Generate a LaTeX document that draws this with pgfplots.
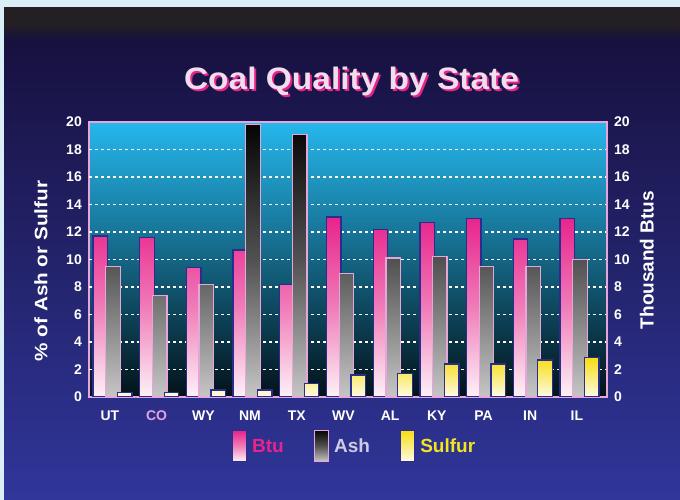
\documentclass[border=0pt]{standalone}
\usepackage{pgfplots}
\pgfplotsset{compat=1.18}
\usepackage{pgfplotstable}
\usepackage{fontspec}
\setmainfont{Liberation Sans}
\usepackage{graphicx}
\definecolor{bglight}{HTML}{DAEEF8}
\definecolor{paneltop}{HTML}{17113F}
\definecolor{panelbot}{HTML}{30369A}
\definecolor{bandtop}{HTML}{231F22}
\definecolor{plottop}{HTML}{25B7EC}
\definecolor{plotmid}{HTML}{0B6480}
\definecolor{plotbot}{HTML}{03121A}
\definecolor{btupink}{HTML}{E8238B}
\definecolor{btumid}{HTML}{F07CB8}
\definecolor{btulight}{HTML}{FDF2F7}
\definecolor{ashtop}{HTML}{050505}
\definecolor{ashmid}{HTML}{525252}
\definecolor{ashbot}{HTML}{C6C6C6}
\definecolor{sulftop}{HTML}{F6DE12}
\definecolor{sulfbot}{HTML}{FFFBE6}
\definecolor{edgeblue}{HTML}{2B2C8C}
\definecolor{edgepink}{HTML}{E6A6DA}
\definecolor{titlefg}{HTML}{F1DDEE}
\definecolor{ashtext}{HTML}{CCCCE4}
\definecolor{sulftext}{HTML}{F2E51E}
\definecolor{colabel}{HTML}{E2A2DE}

\pgfplotstableread{
x btu ash sulfur
0 11.7 9.5 0.35
1 11.6 7.4 0.35
2 9.4 8.2 0.5
3 10.7 19.8 0.5
4 8.2 19.1 1.0
5 13.1 9.0 1.6
6 12.2 10.1 1.7
7 12.7 10.2 2.4
8 13.0 9.5 2.4
9 11.5 9.5 2.7
10 13.0 10.0 2.85
}\coaldata

\begin{document}
\begin{tikzpicture}[x=1pt,y=1pt]
\path[use as bounding box] (0,0) rectangle (680,500);
\fill[bglight] (0,0) rectangle (680,500);
\shade[top color=paneltop, bottom color=panelbot] (4,0) rectangle (680,461);
\shade[top color=bandtop, bottom color=paneltop] (4,460) rectangle (680,476);
\fill[bandtop] (4,475) rectangle (680,493);
\node[text=btupink, font=\bfseries\fontsize{31}{31}\selectfont] at (353.5,416.5) {\scalebox{1.08}[1]{Coal Quality by State}};
\node[text=titlefg, font=\bfseries\fontsize{31}{31}\selectfont] at (351.5,419) {\scalebox{1.08}[1]{Coal Quality by State}};

\begin{axis}[
  at={(89pt,103pt)}, anchor=south west, scale only axis,
  width=518pt, height=275pt,
  xmin=-0.512, xmax=10.58, ymin=0, ymax=20,
  ytick={0,2,...,20}, xtick={0,...,10},
  xticklabels={UT,\textcolor{colabel}{CO},WY,NM,TX,WV,AL,KY,PA,IN,IL},
  major tick length=0pt,
  axis line style={draw=edgepink, line width=1.5pt},
  axis background/.style={top color=plottop, middle color=plotmid, bottom color=plotbot},
  extra y ticks={2,4,...,18}, extra y tick labels={},
  extra y tick style={grid=major, major grid style={white, line width=1.1pt, dash pattern=on 3pt off 3pt}},
  /pgf/number format/assume math mode=true,
  tick label style={text=white, font=\bfseries\fontsize{14}{14}\selectfont, inner sep=0pt},
  yticklabel style={xshift=-7pt},
  xticklabel style={yshift=-14pt, xshift=-3pt},
  ylabel={\scalebox{1.15}[1]{\% of Ash or Sulfur}},
  ylabel style={at={(axis description cs:-0.093,0.458)}, anchor=center, rotate=0, text=white, font=\bfseries\fontsize{18}{18}\selectfont},
  legend columns=3,
  legend cell align=left,
  legend style={at={(axis description cs:0.5125,-0.178)}, anchor=center, draw=none, fill=none,
    font=\bfseries\fontsize{19}{19}\selectfont,
    /tikz/every odd column/.append style={column sep=3pt},
    /tikz/every even column/.append style={column sep=28pt}},
  legend image code/.code={\draw[#1] (0pt,-15pt) rectangle (14pt,16pt);},
]
\addplot[ybar, bar width=14.5pt, bar shift=-12.7pt, draw=edgeblue, line width=1.3pt, top color=btupink, bottom color=btulight, middle color=btumid] table[x=x,y=btu]{\coaldata};
\addlegendentry{\textcolor{btupink}{Btu}}
\addplot[ybar, bar width=14.5pt, bar shift=0pt, draw=edgepink, line width=1.3pt, top color=ashtop, bottom color=ashbot, middle color=ashmid] table[x=x,y=ash]{\coaldata};
\addlegendentry{\textcolor{ashtext}{Ash}}
\addplot[ybar, bar width=14.5pt, bar shift=11.8pt, draw=edgeblue, line width=1.3pt, top color=sulftop, bottom color=sulfbot] table[x=x,y=sulfur]{\coaldata};
\addlegendentry{\textcolor{sulftext}{Sulfur}}
\end{axis}

\begin{axis}[
  at={(89pt,103pt)}, anchor=south west, scale only axis,
  width=518pt, height=275pt,
  xmin=-0.512, xmax=10.58, ymin=0, ymax=20,
  ytick={0,2,...,20},
  hide x axis, axis y line*=right,
  y axis line style={draw=edgepink, line width=1.5pt},
  major tick length=0pt,
  /pgf/number format/assume math mode=true,
  tick label style={text=white, font=\bfseries\fontsize{14}{14}\selectfont, inner sep=0pt},
  yticklabel style={xshift=7pt},
  ylabel={Thousand Btus},
  ylabel style={at={(axis description cs:1.077,0.498)}, anchor=center, rotate=0, text=white, font=\bfseries\fontsize{19}{19}\selectfont},
]
\addplot[draw=none] coordinates {(0,0)};
\end{axis}
\end{tikzpicture}
\end{document}
